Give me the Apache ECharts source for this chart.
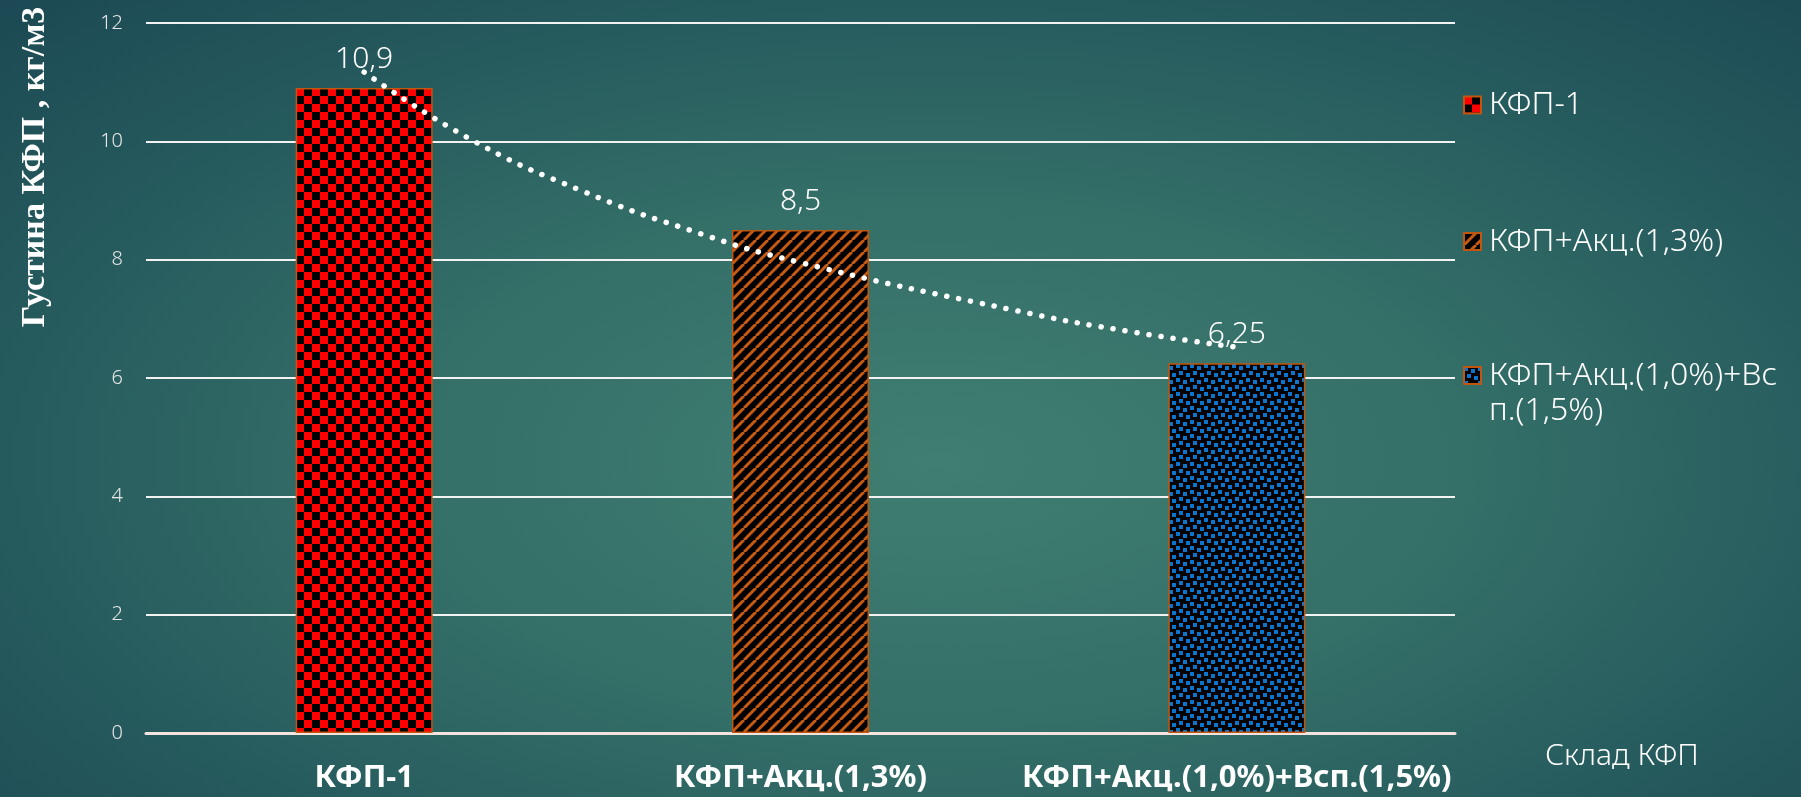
<!DOCTYPE html>
<html>
<head>
<meta charset="utf-8">
<title>Густина КФП</title>
<script src="https://cdn.jsdelivr.net/npm/echarts@6/dist/echarts.min.js"></script>
<style>
* {
  margin: 0;
  padding: 0;
}
body {
  background: radial-gradient(ellipse farthest-corner at 52% 58%, #407e71 0%, #346f68 40%, #24585c 75%, #1c4953 100%);
}
#main {
  width: 1801px;
  height: 797px;
}
</style>
</head>
<body>
<div id="main"></div>
<script>
// дані з діаграми
var categories = ["КФП-1", "КФП+Акц.(1,3%)", "КФП+Акц.(1,0%)+Всп.(1,5%)"];
var values = [10.9, 8.5, 6.25];
var yTicks = { min: 0, max: 12, step: 2 };
// лінія тренду (крапки): позиція категорії -> значення
var trendX = [1, 1.25, 1.5, 1.75, 2, 2.5, 2.75, 3];
var trendY = [11.17, 10.01, 9.16, 8.49, 7.95, 7.13, 6.79, 6.52];

var font = "'Noto Sans', 'DejaVu Sans', sans-serif";
var border = "#c0560f";

// візерунки заливки стовпців
function makeTile(size, draw) {
  var c = document.createElement("canvas");
  c.width = c.height = size;
  var ctx = c.getContext("2d");
  ctx.fillStyle = "#000";
  ctx.fillRect(0, 0, size, size);
  draw(ctx);
  return { image: c, repeat: "repeat" };
}
var checker = makeTile(16, function (ctx) {
  ctx.fillStyle = "#ff0000";
  ctx.fillRect(0, 0, 8, 8);
  ctx.fillRect(8, 8, 8, 8);
});
var stripes = makeTile(12, function (ctx) {
  ctx.strokeStyle = "#c65a12";
  ctx.lineWidth = 3;
  [-12, 0, 12].forEach(function (x) {
    ctx.beginPath();
    ctx.moveTo(x, 12);
    ctx.lineTo(x + 12, 0);
    ctx.stroke();
  });
});
var confetti = makeTile(14, function (ctx) {
  ctx.fillStyle = "#0b74cc";
  [[0, 0], [7, 2], [3, 7], [10, 9]].forEach(function (p) {
    ctx.fillRect(p[0], p[1], 4, 4);
  });
});
var fills = [checker, stripes, confetti];

var barSeries = categories.map(function (name, i) {
  return {
    name: name,
    type: "bar",
    stack: "one",
    barWidth: 137,
    data: values.map(function (v, j) { return j === i ? v : "-"; }),
    itemStyle: { color: fills[i], borderColor: border, borderWidth: 1.5 },
    label: {
      show: true,
      position: "top",
      distance: 14,
      color: "#fff",
      fontFamily: font,
      fontSize: 30,
      fontWeight: 300,
      formatter: function (p) { return String(p.value).replace(".", ","); }
    }
  };
});

function legendAt(i, top) {
  return {
    orient: "vertical",
    left: 1463,
    top: top,
    padding: 0,
    itemWidth: 17,
    itemHeight: 17,
    icon: "rect",
    data: [categories[i]],
    // довгу назву переносимо, порожній перший рядок вирівнює перший рядок по значку
    formatter: function (name) {
      return name === categories[2] ? "\nКФП+Акц.(1,0%)+Вс\nп.(1,5%)" : name;
    },
    textStyle: {
      color: "#fff",
      fontFamily: font,
      fontSize: 32,
      fontWeight: 300,
      lineHeight: 35,
      padding: [0, 0, 0, 3]
    }
  };
}

var chart = echarts.init(document.getElementById("main"));
chart.setOption({
  backgroundColor: "transparent",
  animation: false,
  grid: { left: 146, right: 346, top: 23, bottom: 64 },
  legend: [
    legendAt(0, 87.5),
    legendAt(1, 224),
    legendAt(2, 323)
  ],
  graphic: [{
    type: "text",
    x: 35,
    y: 167,
    rotation: Math.PI / 2,
    style: {
      text: "Густина КФП , кг/м3",
      fill: "#fff",
      font: "bold 34px 'Liberation Serif', 'DejaVu Serif', serif",
      align: "center",
      verticalAlign: "middle"
    }
  }],
  xAxis: [{
    type: "category",
    data: categories,
    name: "Склад КФП",
    nameLocation: "end",
    nameGap: 90,
    nameTextStyle: {
      color: "#fff",
      fontFamily: font,
      fontSize: 30,
      fontWeight: 300,
      align: "left",
      verticalAlign: "top",
      lineHeight: 46
    },
    axisLine: { lineStyle: { color: "#f3e4df", width: 3 } },
    axisTick: { show: false },
    axisLabel: {
      interval: 0,
      color: "#fff",
      fontFamily: font,
      fontSize: 31,
      fontWeight: "bold",
      lineHeight: 30,
      margin: 30
    }
  }, {
    type: "value",
    min: 0.5,
    max: 3.5,
    show: false
  }],
  yAxis: {
    type: "value",
    min: yTicks.min,
    max: yTicks.max,
    interval: yTicks.step,
    axisLine: { show: false },
    axisTick: { show: false },
    axisLabel: { color: "#e6e6e6", fontFamily: font, fontSize: 20, fontWeight: 300, margin: 23 },
    splitLine: { lineStyle: { color: "#f2f2f2", width: 2 } }
  },
  series: barSeries.concat([{
    name: "тренд",
    type: "line",
    xAxisIndex: 1,
    yAxisIndex: 0,
    smooth: true,
    symbol: "none",
    z: 5,
    data: trendX.map(function (x, i) { return [x, trendY[i]]; }),
    lineStyle: { color: "#fff", width: 5.5, type: [0.1, 12], cap: "round" }
  }])
});
</script>
</body>
</html>
